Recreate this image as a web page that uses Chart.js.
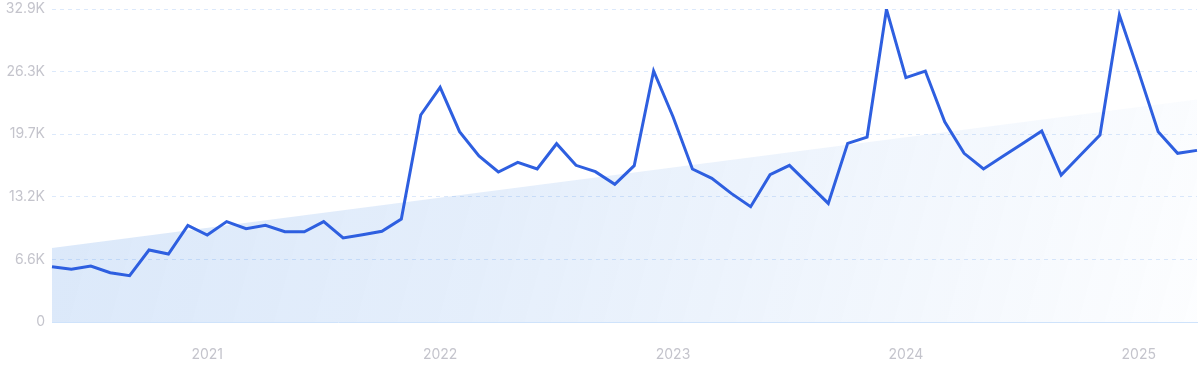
<!DOCTYPE html>
<html>
<head>
<meta charset="utf-8">
<script src="https://cdn.jsdelivr.net/npm/chart.js@4"></script>
<style>
  html, body { margin: 0; padding: 0; background: #ffffff; }
  #wrap { width: 1200px; height: 371px; position: relative; }
</style>
</head>
<body>
<div id="wrap"><canvas id="c"></canvas></div>
<script>
// Months May 2020 .. Apr 2025
const months = [
  '2020-05','2020-06','2020-07','2020-08','2020-09','2020-10','2020-11','2020-12',
  '2021-01','2021-02','2021-03','2021-04','2021-05','2021-06','2021-07','2021-08','2021-09','2021-10','2021-11','2021-12',
  '2022-01','2022-02','2022-03','2022-04','2022-05','2022-06','2022-07','2022-08','2022-09','2022-10','2022-11','2022-12',
  '2023-01','2023-02','2023-03','2023-04','2023-05','2023-06','2023-07','2023-08','2023-09','2023-10','2023-11','2023-12',
  '2024-01','2024-02','2024-03','2024-04','2024-05','2024-06','2024-07','2024-08','2024-09','2024-10','2024-11','2024-12',
  '2025-01','2025-02','2025-03','2025-04'
];
const searches = [
  5810, 5540, 5890, 5180, 4870, 7570, 7150, 10160,
  9140, 10550, 9810, 10160, 9490, 9490, 10550, 8830, 9180, 9530, 10830, 21760,
  24660, 20000, 17450, 15770, 16780, 16080, 18740, 16470, 15800, 14470, 16430, 26380,
  21580, 16080, 15100, 13520, 12120, 15480, 16470, 14470, 12470, 18780, 19440, 32860,
  25680, 26380, 21050, 17730, 16080, 17410, 18740, 20070, 15450, 17550, 19650, 32270,
  26240, 20000, 17730, 18040
];
const trendStart = 7780;
const trendEnd = 23400;
const yTickValues = [0, 6580, 13160, 19740, 26320, 32900];
const yTickLabels = ['0', '6.6K', '13.2K', '19.7K', '26.3K', '32.9K'];

const ctx = document.getElementById('c').getContext('2d');

function trendGradient(context) {
  const chart = context.chart;
  const a = chart.chartArea;
  if (!a) return 'rgba(36,117,224,0.14)';
  const g = chart.ctx.createLinearGradient(a.left, a.top, a.right, a.bottom);
  g.addColorStop(0, 'rgba(36,117,224,0.17)');
  g.addColorStop(0.4, 'rgba(36,117,224,0.12)');
  g.addColorStop(1, 'rgba(36,117,224,0.01)');
  return g;
}

new Chart(ctx, {
  type: 'line',
  data: {
    labels: months,
    datasets: [
      {
        label: 'Searches',
        data: searches,
        borderColor: '#2e5fe0',
        borderWidth: 3,
        pointRadius: 0,
        tension: 0,
        fill: false,
        order: 0
      },
      {
        label: 'Trend',
        data: [{x: months[0], y: trendStart}, {x: months[months.length - 1], y: trendEnd}],
        borderWidth: 0,
        borderColor: 'rgba(0,0,0,0)',
        backgroundColor: trendGradient,
        pointRadius: 0,
        fill: 'origin',
        spanGaps: true,
        order: 1
      }
    ]
  },
  options: {
    responsive: true,
    maintainAspectRatio: false,
    animation: false,
    layout: { padding: { top: 9, right: 3, left: 0, bottom: 0 } },
    plugins: { legend: { display: false }, tooltip: { enabled: false } },
    scales: {
      x: {
        type: 'category',
        offset: false,
        grid: { display: false, drawTicks: false },
        border: { display: true, color: '#cfe3fb', width: 1 },
        ticks: {
          autoSkip: false,
          maxRotation: 0,
          padding: 24,
          color: '#c4c4cc',
          font: { family: 'Inter', size: 14 },
          callback: function (v, i) {
            const m = months[i];
            return m.endsWith('-01') ? m.slice(0, 4) : '';
          }
        },
        afterFit: function (s) { s.height = 49; s.paddingLeft = 0; s.paddingRight = 0; }
      },
      y: {
        min: 0,
        max: 32900,
        afterBuildTicks: function (s) { s.ticks = yTickValues.map(v => ({ value: v })); },
        grid: { color: '#dce9fb', lineWidth: 1, drawTicks: false },
        border: { display: false, dash: [4, 4] },
        ticks: {
          padding: 7,
          color: '#c4c4cc',
          font: { family: 'Inter', size: 14 },
          callback: function (v, i) { return yTickLabels[i]; }
        },
        afterFit: function (s) { s.width = 52; s.paddingTop = 0; s.paddingBottom = 0; }
      }
    }
  }
});
</script>
</body>
</html>
